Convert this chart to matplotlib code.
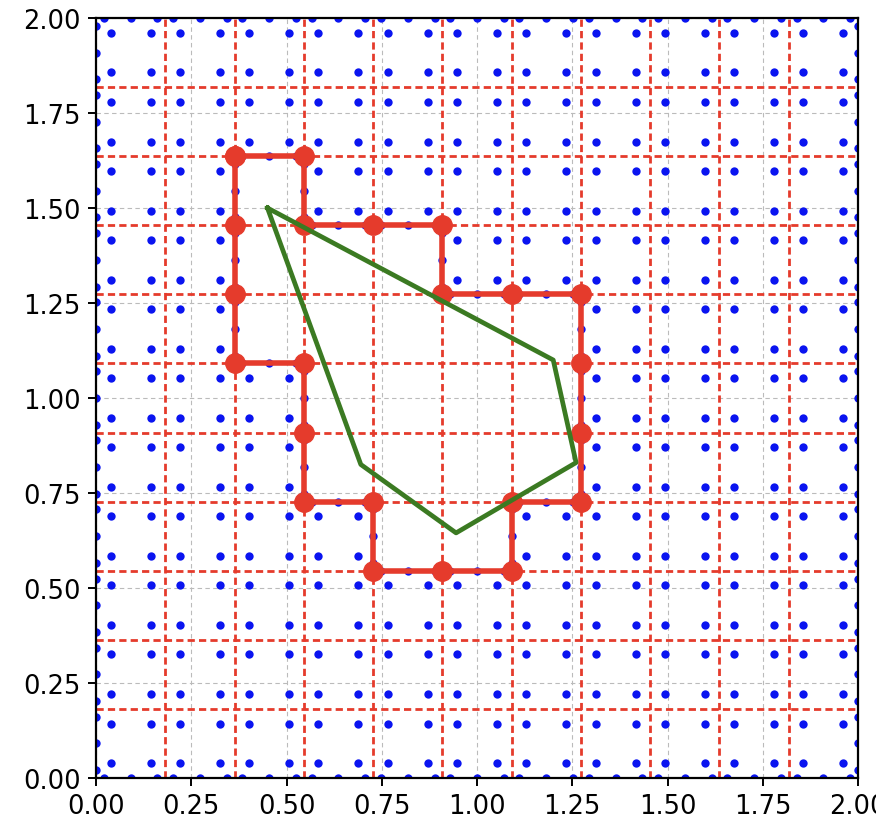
import numpy as np
import matplotlib
matplotlib.use('Agg')
import matplotlib.pyplot as plt

# background mesh: square [0, 2] split into 11 x 11 cells
n_cells = 11
x_min, x_max = 0.0, 2.0

# cells removed from the mesh (column i, row j)
hole_cells = [(2, 8),
              (2, 7), (3, 7), (4, 7),
              (2, 6), (3, 6), (4, 6), (5, 6), (6, 6),
              (3, 5), (4, 5), (5, 5), (6, 5),
              (3, 4), (4, 4), (5, 4), (6, 4),
              (4, 3), (5, 3)]

# staircase boundary of the hole, as mesh node indices
stair_i = [2, 3, 3, 4, 5, 5, 6, 7, 7, 7, 7, 6, 6, 5, 4, 4, 3, 3, 3, 2, 2, 2, 2]
stair_j = [9, 9, 8, 8, 8, 7, 7, 7, 6, 5, 4, 4, 3, 3, 3, 4, 4, 5, 6, 6, 7, 8, 9]

# embedded geometry
poly_x = [0.45, 1.20, 1.26, 0.945, 0.695, 0.45]
poly_y = [1.50, 1.10, 0.83, 0.645, 0.825, 1.50]

h = (x_max - x_min) / n_cells
nodes = x_min + h * np.arange(n_cells + 1)

# Gauss-Legendre points on [0, 1]
g2 = 0.5 + np.array([-1, 1]) / (2 * np.sqrt(3))
g3 = 0.5 + np.array([-1, 0, 1]) * np.sqrt(3 / 5) / 2

# 2x2 points inside every active cell
qx, qy = [], []
holes = set(hole_cells)
for i in range(n_cells):
    for j in range(n_cells):
        if (i, j) in holes:
            continue
        for a in g2:
            for b in g2:
                qx.append(nodes[i] + a * h)
                qy.append(nodes[j] + b * h)

# 3 points on each boundary edge (outer square + staircase)
ex, ey = [], []
for k in range(n_cells):
    for t in g3:
        s = nodes[k] + t * h
        ex += [s, s, x_min, x_max]
        ey += [x_min, x_max, s, s]
sx = nodes[np.array(stair_i)]
sy = nodes[np.array(stair_j)]
for k in range(len(sx) - 1):
    for t in g3:
        ex.append(sx[k] + t * (sx[k + 1] - sx[k]))
        ey.append(sy[k] + t * (sy[k + 1] - sy[k]))

red = '#e53b2c'
fig = plt.figure(figsize=(8.76, 8.29), dpi=100)
ax = fig.add_axes([0.1096, 0.0603, 0.8699, 0.9168])

ax.set_axisbelow(True)
ax.grid(True, color='#bbbbbb', linestyle=(0, (4, 3)), linewidth=0.8)

for v in nodes[1:-1]:
    ax.axvline(v, color=red, linestyle=(0, (2.6, 1.5)), linewidth=2.0, zorder=1)
    ax.axhline(v, color=red, linestyle=(0, (2.6, 1.5)), linewidth=2.0, zorder=1)

ax.scatter(qx, qy, s=36, color='#0a14f0', zorder=2, linewidths=0)
ax.scatter(ex, ey, s=36, color='#0a14f0', zorder=2, linewidths=0)

ax.plot(sx, sy, color=red, linewidth=4.0, marker='o', markersize=14, zorder=3)
ax.plot(poly_x, poly_y, color='#3b7a22', linewidth=3.4, zorder=4)

ax.set_xlim(x_min, x_max)
ax.set_ylim(x_min, x_max)
ticks = np.arange(0, 2.01, 0.25)
ax.set_xticks(ticks)
ax.set_yticks(ticks)
ax.set_xticklabels([f'{t:.2f}' for t in ticks])
ax.set_yticklabels([f'{t:.2f}' for t in ticks])
ax.tick_params(labelsize=18.5, length=6, width=1.4, pad=5)
for sp in ax.spines.values():
    sp.set_linewidth(1.6)

fig.savefig('out.png', dpi=100)
